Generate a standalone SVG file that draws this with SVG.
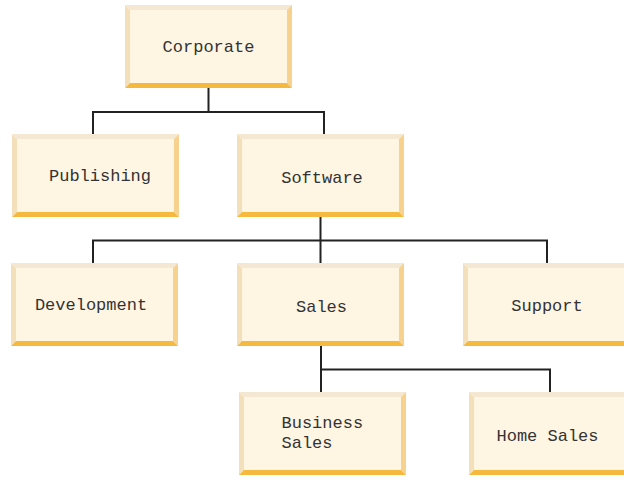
<svg xmlns="http://www.w3.org/2000/svg" xmlns:xlink="http://www.w3.org/1999/xlink" width="624" height="477" viewBox="0 0 624 477">
  <style>
    .bt { fill: #f5e8d2; }
    .bl { fill: #f4dfbb; }
    .br { fill: #f6d28e; }
    .bb { fill: #f6b940; }
    .bf { fill: #fff5e3; }
    .lbl { font-family: "Liberation Mono", "DejaVu Sans Mono", monospace; font-size: 17px; fill: #333333; }
    .c { text-anchor: middle; }
    .conn { fill: none; stroke: #222222; stroke-width: 2; }
  </style>
  <defs>
    <g id="box">
      <rect class="bf" x="5" y="5" width="157" height="73"/>
      <polygon class="bt" points="0,0 167,0 162,5 5,5"/>
      <polygon class="bl" points="0,0 5,5 5,78 0,83"/>
      <polygon class="br" points="167,0 167,83 162,78 162,5"/>
      <polygon class="bb" points="0,83 167,83 162,78 5,78"/>
    </g>
  </defs>
  <rect width="624" height="477" fill="#ffffff"/>
  <g id="connectors" class="conn">
    <path d="M208.5 88 V112"/>
    <path d="M93 134 V112 H324 V134"/>
    <path d="M320.5 217 V263"/>
    <path d="M93 263 V240.5 H547 V263"/>
    <path d="M321 346 V392"/>
    <path d="M321 369.5 H550 V392"/>
  </g>
  <g id="corporate">
    <use xlink:href="#box" href="#box" x="125" y="5"/>
    <text class="lbl c" x="208.5" y="52">Corporate</text>
  </g>
  <g id="publishing">
    <use xlink:href="#box" href="#box" x="12" y="134"/>
    <text class="lbl c" x="100" y="181">Publishing</text>
  </g>
  <g id="software">
    <use xlink:href="#box" href="#box" x="237" y="134"/>
    <text class="lbl c" x="322" y="183">Software</text>
  </g>
  <g id="development">
    <use xlink:href="#box" href="#box" x="11" y="263"/>
    <text class="lbl c" x="91" y="310">Development</text>
  </g>
  <g id="sales">
    <use xlink:href="#box" href="#box" x="237" y="263"/>
    <text class="lbl c" x="321.5" y="312">Sales</text>
  </g>
  <g id="support">
    <use xlink:href="#box" href="#box" x="463" y="263"/>
    <text class="lbl c" x="547" y="311">Support</text>
  </g>
  <g id="business-sales">
    <use xlink:href="#box" href="#box" x="239" y="392"/>
    <text class="lbl" x="281.5" y="428">Business</text>
    <text class="lbl" x="281.5" y="448">Sales</text>
  </g>
  <g id="home-sales">
    <use xlink:href="#box" href="#box" x="469" y="392"/>
    <text class="lbl c" x="547.5" y="441">Home Sales</text>
  </g>
</svg>
